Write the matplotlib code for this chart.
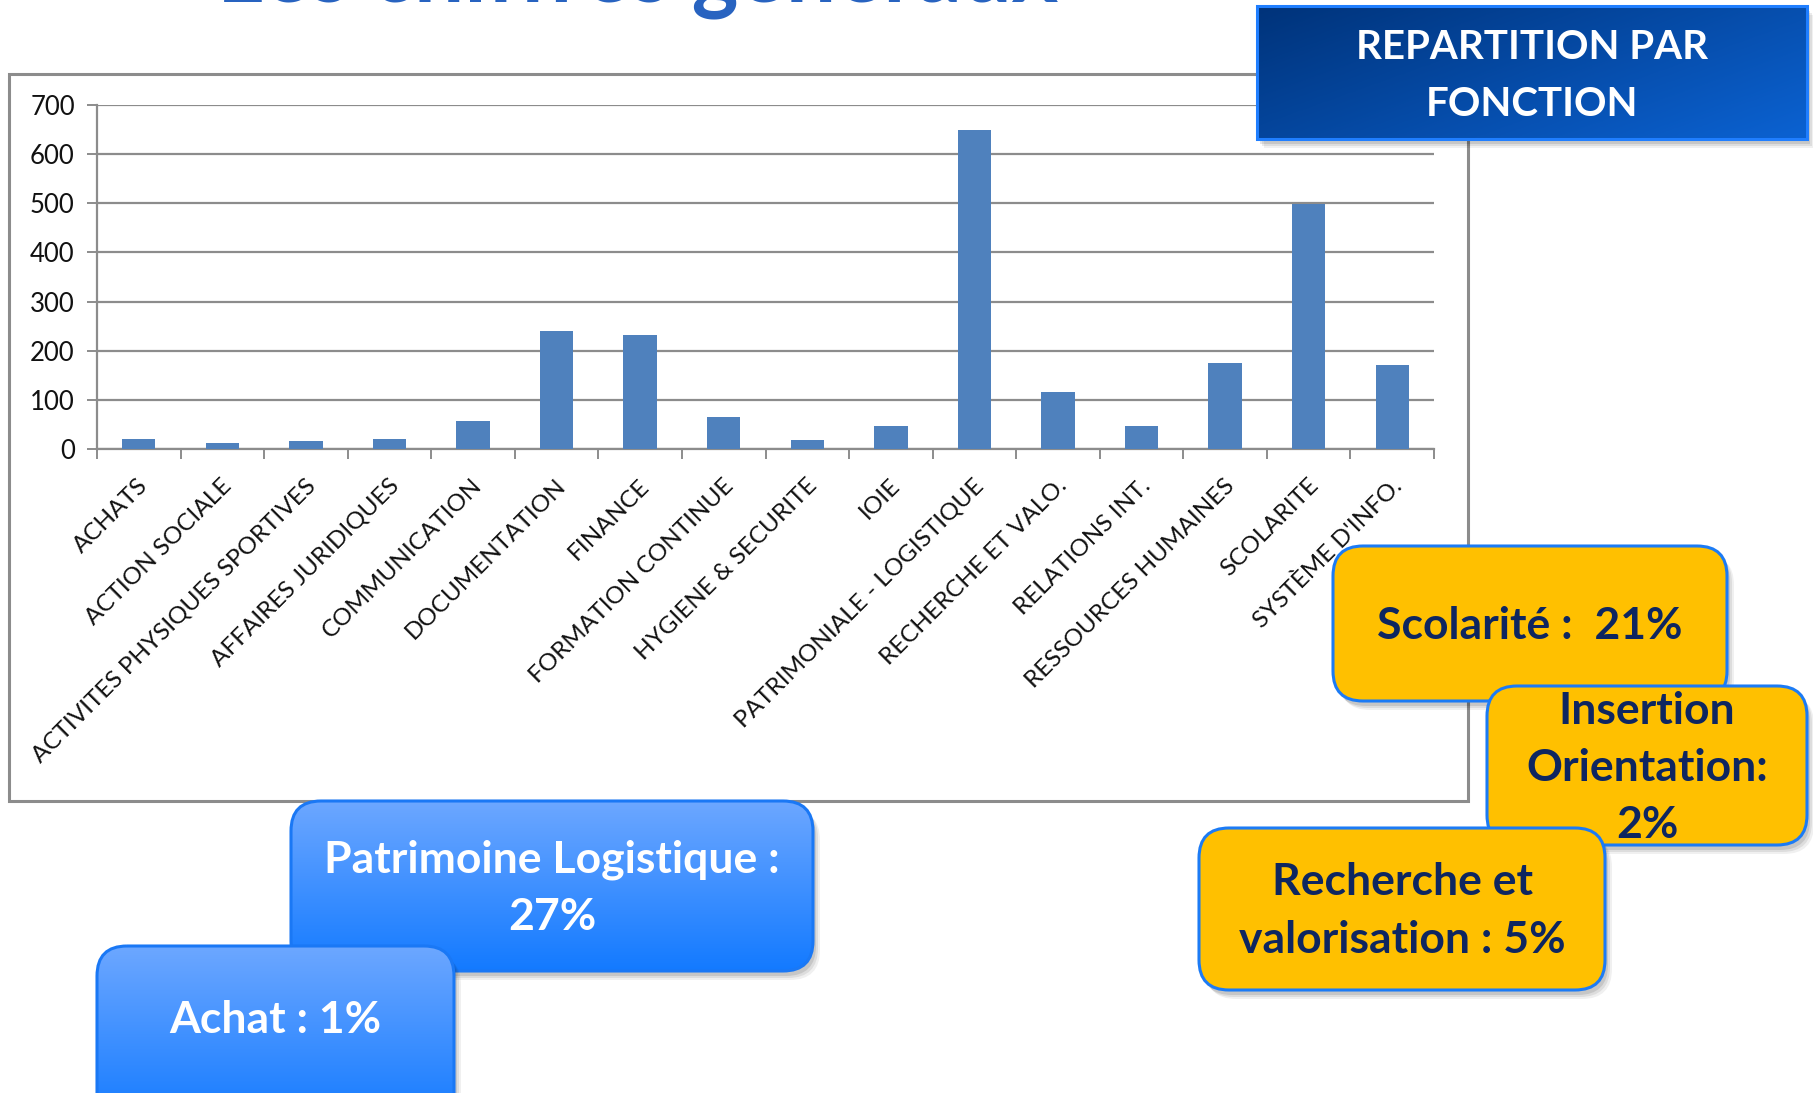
import numpy as np
import matplotlib
matplotlib.use("Agg")
import matplotlib.pyplot as plt
import matplotlib.transforms as mtransforms
from matplotlib.patches import FancyBboxPatch, Rectangle
from matplotlib.colors import LinearSegmentedColormap

# ---------------------------------------------------------------------------
# Data
# ---------------------------------------------------------------------------
categories = [
    "ACHATS", "ACTION SOCIALE", "ACTIVITES PHYSIQUES SPORTIVES",
    "AFFAIRES JURIDIQUES", "COMMUNICATION", "DOCUMENTATION", "FINANCE",
    "FORMATION CONTINUE", "HYGIENE & SECURITE", "IOIE",
    "PATRIMONIALE - LOGISTIQUE", "RECHERCHE ET VALO.", "RELATIONS INT.",
    "RESSOURCES HUMAINES", "SCOLARITE", "SYSTÈME D'INFO.",
]
counts = [20, 12, 16, 20, 57, 240, 231, 65, 19, 46, 650, 116, 46, 174, 498, 170]
y_ticks = [0, 100, 200, 300, 400, 500, 600, 700]

title = "Les chiffres généraux"
header = "REPARTITION PAR\nFONCTION"
blue_notes = ["Patrimoine Logistique :\n27%", "Achat : 1%"]
gold_notes = ["Scolarité :  21%", "Insertion\nOrientation:\n2%",
              "Recherche et\nvalorisation : 5%"]

# ---------------------------------------------------------------------------
# Style
# ---------------------------------------------------------------------------
W, H = 1813, 1093
BAR = "#4F81BD"
GRID = "#8C8C8C"
NAVY = "#0E2660"
plt.rcParams["font.family"] = ["Lato", "DejaVu Sans"]

fig = plt.figure(figsize=(W / 100, H / 100), dpi=100)
fig.patch.set_facecolor("white")

# ---------------------------------------------------------------------------
# Bar chart (pixel layout taken from the slide)
# ---------------------------------------------------------------------------
ax_l, ax_r, ax_t, ax_b = 97, 1434, 105, 449
ax = fig.add_axes([ax_l / W, 1 - ax_b / H, (ax_r - ax_l) / W, (ax_b - ax_t) / H])
x = np.arange(len(categories)) + 0.5
ax.bar(x, counts, width=0.4, color=BAR, zorder=3)
ax.set_xlim(0, len(categories))
ax.set_ylim(0, 700)
ax.set_yticks(y_ticks)
ax.yaxis.grid(True, color=GRID, lw=1.6)
ax.set_axisbelow(True)
for s in ["top", "right"]:
    ax.spines[s].set_visible(False)
for s in ["left", "bottom"]:
    ax.spines[s].set_color(GRID)
    ax.spines[s].set_linewidth(1.6)

ax.set_xticks(x)
ax.set_xticklabels(categories, rotation=45, ha="right", va="center",
                   rotation_mode="anchor", fontsize=17.5, color="#111111")
ax.set_xticks(np.arange(len(categories) + 1), minor=True)
ax.tick_params(axis="x", which="major", length=0, pad=24)
ax.tick_params(axis="x", which="minor", length=7, width=1.4, color=GRID)
ax.tick_params(axis="y", length=7, width=1.4, color=GRID, pad=9,
               labelsize=18.5, labelcolor="#111111")
shift = mtransforms.ScaledTranslation(6 / 100, 0, fig.dpi_scale_trans)
for lbl in ax.get_xticklabels():
    lbl.set_transform(lbl.get_transform() + shift)

# ---------------------------------------------------------------------------
# Slide overlay (frame, title, header and callouts), pixel coordinates
# ---------------------------------------------------------------------------
ov = fig.add_axes([0, 0, 1, 1], zorder=10)
ov.set_xlim(0, W)
ov.set_ylim(H, 0)
ov.axis("off")
ov.patch.set_alpha(0)

ov.add_patch(Rectangle((9, 74), 1459, 727, fc="none", ec="#8C8C8C", lw=2.2, zorder=1))

ov.text(638, 1, title, fontsize=64, fontweight="bold", color="#2863C0",
        ha="center", va="baseline", zorder=2)


def callout(x0, y0, x1, y1, c_top, c_bot, edge, text, tcolor, fs, z,
            radius=30, diag=False, linespacing=1.2, ty=None):
    w, h = x1 - x0, y1 - y0
    style = "round,pad=0,rounding_size=%d" % radius if radius else "square,pad=0"
    for k, a in [(9, 0.06), (7, 0.08), (5, 0.10)]:
        ov.add_patch(FancyBboxPatch((x0 + k - 2, y0 + k), w, h, boxstyle=style,
                                    fc="black", ec="none", alpha=a, zorder=z))
    base = FancyBboxPatch((x0, y0), w, h, boxstyle=style, fc=c_bot, ec="none",
                          zorder=z + 0.1)
    ov.add_patch(base)
    if c_top != c_bot:
        cmap = LinearSegmentedColormap.from_list("g", [c_top, c_bot])
        if diag:
            gx, gy = np.meshgrid(np.linspace(0, 1, 200), np.linspace(0, 1, 60))
            grad = 0.6 * gx + 0.4 * gy
        else:
            grad = np.linspace(0, 1, 200).reshape(-1, 1)
        im = ov.imshow(grad, cmap=cmap, extent=(x0, x1, y1, y0), origin="upper",
                       aspect="auto", zorder=z + 0.2, interpolation="bilinear")
        im.set_clip_path(base)
    ov.add_patch(FancyBboxPatch((x0, y0), w, h, boxstyle=style, fc="none",
                                ec=edge, lw=2.2, zorder=z + 0.3))
    ov.text((x0 + x1) / 2, (y0 + y1) / 2 if ty is None else ty, text,
            ha="center", va="center", fontsize=fs, fontweight="bold",
            color=tcolor, linespacing=linespacing, zorder=z + 0.4)


callout(1257, 6, 1807, 139, "#00337A", "#0B62D2", "#1F7EFF", header,
        "white", 29, 2, radius=0, diag=True, linespacing=1.68, ty=76)
callout(291, 801, 813, 971, "#6CA7FF", "#137AFF", "#1A78F5", blue_notes[0],
        "white", 32, 3, linespacing=1.53, ty=888)
callout(97, 946, 454, 1125, "#6CA7FF", "#137AFF", "#1A78F5", blue_notes[1],
        "white", 32, 4, ty=1020)
callout(1333, 546, 1727, 701, "#FFC000", "#FFC000", "#1C7BF5", gold_notes[0],
        NAVY, 32, 5, ty=626)
callout(1487, 686, 1807, 845, "#FFC000", "#FFC000", "#1C7BF5", gold_notes[1],
        NAVY, 32, 6, linespacing=1.53, ty=768)
callout(1199, 828, 1605, 990, "#FFC000", "#FFC000", "#1C7BF5", gold_notes[2],
        NAVY, 32, 7, linespacing=1.53, ty=911)

ov.set_xlim(0, W)
ov.set_ylim(H, 0)

fig.savefig("out.png", dpi=100)
plt.close(fig)
